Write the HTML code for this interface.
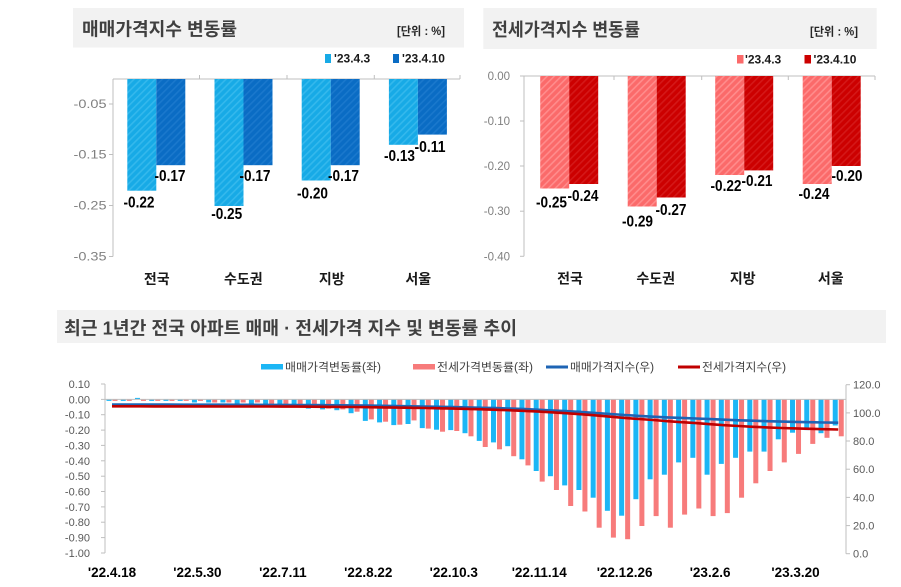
<!DOCTYPE html>
<html><head><meta charset="utf-8">
<style>
html,body{margin:0;padding:0;background:#fff;}
svg{display:block;}
svg text{font-family:"Liberation Sans","Noto Sans CJK KR",sans-serif;}
.t{font-weight:bold;font-size:18px;fill:#404040;}
.u{font-weight:bold;font-size:11.5px;fill:#262626;}
.lg{font-weight:bold;font-size:12px;fill:#1a1a1a;}
.yl{font-size:11.5px;fill:#7f7f7f;}
.dl{font-weight:bold;font-size:16px;fill:#000;}
.cat{font-weight:bold;font-size:14px;fill:#1a1a1a;}
.by{font-size:11px;fill:#595959;}
.bx{font-weight:bold;font-size:13.5px;fill:#000;}
.bl{font-size:11.5px;fill:#404040;}
</style></head>
<body>
<svg width="901" height="587" viewBox="0 0 901 587" xmlns="http://www.w3.org/2000/svg">
<defs>
<pattern id="pLB" width="5" height="5" patternUnits="userSpaceOnUse" patternTransform="rotate(45)"><rect width="5" height="5" fill="#17aae6"/><rect width="1.6" height="5" fill="#34b8ec"/></pattern>
<pattern id="pDB" width="5" height="5" patternUnits="userSpaceOnUse" patternTransform="rotate(45)"><rect width="5" height="5" fill="#0a6cc4"/><rect width="1.6" height="5" fill="#1a78cc"/></pattern>
<pattern id="pLR" width="5" height="5" patternUnits="userSpaceOnUse" patternTransform="rotate(45)"><rect width="5" height="5" fill="#fb6a6a"/><rect width="1.6" height="5" fill="#ff8c8c"/></pattern>
<pattern id="pDR" width="5" height="5" patternUnits="userSpaceOnUse" patternTransform="rotate(45)"><rect width="5" height="5" fill="#cc0000"/><rect width="1.6" height="5" fill="#d41818"/></pattern>
</defs>
<rect width="901" height="587" fill="#fff"/>

<!-- ===== Top-left chart ===== -->
<rect x="73" y="8" width="391" height="39.5" fill="#f2f2f2"/>
<text class="t" x="82" y="35.5" textLength="155" lengthAdjust="spacingAndGlyphs">매매가격지수 변동률</text>
<text class="u" x="397" y="35" textLength="48" lengthAdjust="spacingAndGlyphs">[단위 : %]</text>
<rect x="325" y="54" width="6" height="9" fill="#17aae6"/>
<text class="lg" x="334" y="62.5">'23.4.3</text>
<rect x="393" y="54" width="6" height="9" fill="#0a6cc4"/>
<text class="lg" x="402" y="62.5">'23.4.10</text>

<g stroke="#bfbfbf" stroke-width="1" fill="none">
<line x1="113" y1="79" x2="460" y2="79"/>
<line x1="113" y1="79" x2="113" y2="256.5"/>
<line x1="109" y1="104" x2="113" y2="104"/>
<line x1="109" y1="154.5" x2="113" y2="154.5"/>
<line x1="109" y1="205.5" x2="113" y2="205.5"/>
<line x1="109" y1="256.5" x2="113" y2="256.5"/>
<line x1="199.5" y1="75" x2="199.5" y2="79"/>
<line x1="287" y1="75" x2="287" y2="79"/>
<line x1="374.3" y1="75" x2="374.3" y2="79"/>
<line x1="460" y1="75" x2="460" y2="79"/>
</g>
<g class="yl" text-anchor="end">
<text x="106.5" y="108" textLength="33" lengthAdjust="spacingAndGlyphs">-0.05</text>
<text x="106.5" y="158.5" textLength="33" lengthAdjust="spacingAndGlyphs">-0.15</text>
<text x="106.5" y="209.5" textLength="33" lengthAdjust="spacingAndGlyphs">-0.25</text>
<text x="106.5" y="260.5" textLength="33" lengthAdjust="spacingAndGlyphs">-0.35</text>
</g>
<rect x="127.3" y="79" width="29" height="111.7" fill="url(#pLB)"/>
<rect x="156.3" y="79" width="29" height="86.2" fill="url(#pDB)"/>
<rect x="214.5" y="79" width="29" height="127" fill="url(#pLB)"/>
<rect x="243.5" y="79" width="29" height="86.2" fill="url(#pDB)"/>
<rect x="301.7" y="79" width="29" height="101.5" fill="url(#pLB)"/>
<rect x="330.7" y="79" width="29" height="86.2" fill="url(#pDB)"/>
<rect x="388.9" y="79" width="29" height="65.8" fill="url(#pLB)"/>
<rect x="417.9" y="79" width="29" height="55.6" fill="url(#pDB)"/>
<g class="dl" text-anchor="middle">
<text x="139" y="207.5" textLength="31" lengthAdjust="spacingAndGlyphs">-0.22</text>
<text x="170" y="181" textLength="31" lengthAdjust="spacingAndGlyphs">-0.17</text>
<text x="226.7" y="219" textLength="31" lengthAdjust="spacingAndGlyphs">-0.25</text>
<text x="255" y="181" textLength="31" lengthAdjust="spacingAndGlyphs">-0.17</text>
<text x="312.5" y="198.5" textLength="31" lengthAdjust="spacingAndGlyphs">-0.20</text>
<text x="343.5" y="181" textLength="31" lengthAdjust="spacingAndGlyphs">-0.17</text>
<text x="399.5" y="161" textLength="31" lengthAdjust="spacingAndGlyphs">-0.13</text>
<text x="430" y="152" textLength="31" lengthAdjust="spacingAndGlyphs">-0.11</text>
</g>
<g class="cat" text-anchor="middle">
<text x="156.7" y="284">전국</text>
<text x="243.3" y="284">수도권</text>
<text x="331.7" y="284">지방</text>
<text x="418.3" y="284">서울</text>
</g>

<!-- ===== Top-right chart ===== -->
<rect x="483.3" y="8" width="393.4" height="41" fill="#f2f2f2"/>
<text class="t" x="492" y="36" textLength="148" lengthAdjust="spacingAndGlyphs">전세가격지수 변동률</text>
<text class="u" x="810" y="35.5" textLength="48" lengthAdjust="spacingAndGlyphs">[단위 : %]</text>
<rect x="737" y="55" width="6.5" height="8.5" fill="#fb6a6a"/>
<text class="lg" x="745" y="63.5">'23.4.3</text>
<rect x="804.5" y="55" width="6.5" height="8.5" fill="#cc0000"/>
<text class="lg" x="813.5" y="63.5">'23.4.10</text>

<g stroke="#bfbfbf" stroke-width="1" fill="none">
<line x1="524" y1="76" x2="875" y2="76"/>
<line x1="524" y1="76" x2="524" y2="256.3"/>
<line x1="520" y1="76" x2="524" y2="76"/>
<line x1="520" y1="121" x2="524" y2="121"/>
<line x1="520" y1="166" x2="524" y2="166"/>
<line x1="520" y1="211.2" x2="524" y2="211.2"/>
<line x1="520" y1="256.3" x2="524" y2="256.3"/>
<line x1="614" y1="76" x2="614" y2="80"/>
<line x1="701.7" y1="76" x2="701.7" y2="80"/>
<line x1="788.3" y1="76" x2="788.3" y2="80"/>
<line x1="875" y1="76" x2="875" y2="80"/>
</g>
<g class="yl" text-anchor="end">
<text x="510" y="80">0.00</text>
<text x="510" y="125">-0.10</text>
<text x="510" y="170">-0.20</text>
<text x="510" y="215.2">-0.30</text>
<text x="510" y="260.3">-0.40</text>
</g>
<rect x="540.2" y="76" width="29" height="112.5" fill="url(#pLR)"/>
<rect x="569.2" y="76" width="29" height="108" fill="url(#pDR)"/>
<rect x="627.7" y="76" width="29" height="130.5" fill="url(#pLR)"/>
<rect x="656.7" y="76" width="29" height="121.5" fill="url(#pDR)"/>
<rect x="715.2" y="76" width="29" height="99" fill="url(#pLR)"/>
<rect x="744.2" y="76" width="29" height="94.4" fill="url(#pDR)"/>
<rect x="802.7" y="76" width="29" height="108" fill="url(#pLR)"/>
<rect x="831.7" y="76" width="29" height="90" fill="url(#pDR)"/>
<g class="dl" text-anchor="middle">
<text x="551.5" y="207.5" textLength="31" lengthAdjust="spacingAndGlyphs">-0.25</text>
<text x="583" y="201" textLength="31" lengthAdjust="spacingAndGlyphs">-0.24</text>
<text x="637.5" y="226.5" textLength="31" lengthAdjust="spacingAndGlyphs">-0.29</text>
<text x="671" y="215" textLength="31" lengthAdjust="spacingAndGlyphs">-0.27</text>
<text x="726" y="191" textLength="31" lengthAdjust="spacingAndGlyphs">-0.22</text>
<text x="757" y="186" textLength="31" lengthAdjust="spacingAndGlyphs">-0.21</text>
<text x="814" y="199" textLength="31" lengthAdjust="spacingAndGlyphs">-0.24</text>
<text x="847" y="181" textLength="31" lengthAdjust="spacingAndGlyphs">-0.20</text>
</g>
<g class="cat" text-anchor="middle">
<text x="570" y="283.5">전국</text>
<text x="655.7" y="283.5">수도권</text>
<text x="742.7" y="283.5">지방</text>
<text x="830.7" y="283.5">서울</text>
</g>

<!-- ===== Bottom chart ===== -->
<rect x="57" y="310" width="829" height="33" fill="#f2f2f2"/>
<text class="t" x="64" y="334.5" textLength="453" lengthAdjust="spacingAndGlyphs">최근 1년간 전국 아파트 매매 · 전세가격 지수 및 변동률 추이</text>

<rect x="261" y="364" width="22" height="5.5" fill="#1cb6f5"/>
<text class="bl" x="285" y="371" textLength="96" lengthAdjust="spacingAndGlyphs">매매가격변동률(좌)</text>
<rect x="413" y="364" width="22" height="5.5" fill="#f77b7b"/>
<text class="bl" x="437" y="371" textLength="96" lengthAdjust="spacingAndGlyphs">전세가격변동률(좌)</text>
<line x1="546" y1="367" x2="568" y2="367" stroke="#1e64b4" stroke-width="3"/>
<text class="bl" x="570" y="371" textLength="84" lengthAdjust="spacingAndGlyphs">매매가격지수(우)</text>
<line x1="678" y1="367" x2="700" y2="367" stroke="#c00000" stroke-width="3"/>
<text class="bl" x="702" y="371" textLength="84" lengthAdjust="spacingAndGlyphs">전세가격지수(우)</text>

<g stroke="#bfbfbf" stroke-width="1" fill="none">
<line x1="105" y1="384" x2="105" y2="553"/>
<line x1="846" y1="384.7" x2="846" y2="553.7"/>
<line x1="101" y1="384" x2="105" y2="384"/>
<line x1="101" y1="399.4" x2="105" y2="399.4"/>
<line x1="101" y1="414.7" x2="105" y2="414.7"/>
<line x1="101" y1="430.1" x2="105" y2="430.1"/>
<line x1="101" y1="445.4" x2="105" y2="445.4"/>
<line x1="101" y1="460.8" x2="105" y2="460.8"/>
<line x1="101" y1="476.2" x2="105" y2="476.2"/>
<line x1="101" y1="491.5" x2="105" y2="491.5"/>
<line x1="101" y1="506.9" x2="105" y2="506.9"/>
<line x1="101" y1="522.2" x2="105" y2="522.2"/>
<line x1="101" y1="537.6" x2="105" y2="537.6"/>
<line x1="101" y1="553" x2="105" y2="553"/>
<line x1="846" y1="384.7" x2="850" y2="384.7"/>
<line x1="846" y1="412.9" x2="850" y2="412.9"/>
<line x1="846" y1="441" x2="850" y2="441"/>
<line x1="846" y1="469.2" x2="850" y2="469.2"/>
<line x1="846" y1="497.4" x2="850" y2="497.4"/>
<line x1="846" y1="525.6" x2="850" y2="525.6"/>
<line x1="846" y1="553.7" x2="850" y2="553.7"/>
</g>
<g class="by" text-anchor="end">
<text x="90" y="388">0.10</text>
<text x="90" y="403.4">0.00</text>
<text x="90" y="418.7">-0.10</text>
<text x="90" y="434.1">-0.20</text>
<text x="90" y="449.4">-0.30</text>
<text x="90" y="464.8">-0.40</text>
<text x="90" y="480.2">-0.50</text>
<text x="90" y="495.5">-0.60</text>
<text x="90" y="510.9">-0.70</text>
<text x="90" y="526.2">-0.80</text>
<text x="90" y="541.6">-0.90</text>
<text x="90" y="557">-1.00</text>
</g>
<g class="by">
<text x="853" y="388.7">120.0</text>
<text x="853" y="416.9">100.0</text>
<text x="853" y="445">80.0</text>
<text x="853" y="473.2">60.0</text>
<text x="853" y="501.4">40.0</text>
<text x="853" y="529.6">20.0</text>
<text x="853" y="557.7">0.0</text>
</g>

<!-- bars -->
<g transform="translate(0,399.4)">
<g fill="#1cb6f5">
<rect x="106.5" y="0" width="5" height="1.5"/>
<rect x="120.74" y="0" width="5" height="1.5"/>
<rect x="134.98" y="-1.5" width="5" height="1.5"/>
<rect x="149.22" y="0" width="5" height="1.5"/>
<rect x="163.46" y="0" width="5" height="1.5"/>
<rect x="177.7" y="0" width="5" height="1.5"/>
<rect x="191.94" y="0" width="5" height="3.1"/>
<rect x="206.18" y="0" width="5" height="3.1"/>
<rect x="220.42" y="0" width="5" height="3.1"/>
<rect x="234.66" y="0" width="5" height="4.6"/>
<rect x="248.9" y="0" width="5" height="4.6"/>
<rect x="263.14" y="0" width="5" height="4.6"/>
<rect x="277.38" y="0" width="5" height="6.1"/>
<rect x="291.62" y="0" width="5" height="7.7"/>
<rect x="305.86" y="0" width="5" height="9.2"/>
<rect x="320.1" y="0" width="5" height="10"/>
<rect x="334.34" y="0" width="5" height="10.8"/>
<rect x="348.58" y="0" width="5" height="13.8"/>
<rect x="362.82" y="0" width="5" height="21.5"/>
<rect x="377.06" y="0" width="5" height="23"/>
<rect x="391.3" y="0" width="5" height="25.7"/>
<rect x="405.54" y="0" width="5" height="24.6"/>
<rect x="419.78" y="0" width="5" height="28.7"/>
<rect x="434.02" y="0" width="5" height="30.3"/>
<rect x="448.26" y="0" width="5" height="30.7"/>
<rect x="462.5" y="0" width="5" height="33.8"/>
<rect x="476.74" y="0" width="5" height="41.5"/>
<rect x="490.98" y="0" width="5" height="43"/>
<rect x="505.22" y="0" width="5" height="46.8"/>
<rect x="519.46" y="0" width="5" height="59.9"/>
<rect x="533.7" y="0" width="5" height="71.6"/>
<rect x="547.94" y="0" width="5" height="76.8"/>
<rect x="562.18" y="0" width="5" height="86"/>
<rect x="576.42" y="0" width="5" height="90.6"/>
<rect x="590.66" y="0" width="5" height="98.3"/>
<rect x="604.9" y="0" width="5" height="111.4"/>
<rect x="619.14" y="0" width="5" height="116.3"/>
<rect x="633.38" y="0" width="5" height="99.8"/>
<rect x="647.62" y="0" width="5" height="79.9"/>
<rect x="661.86" y="0" width="5" height="75.3"/>
<rect x="676.1" y="0" width="5" height="63"/>
<rect x="690.34" y="0" width="5" height="58.4"/>
<rect x="704.58" y="0" width="5" height="75.3"/>
<rect x="718.82" y="0" width="5" height="64.5"/>
<rect x="733.06" y="0" width="5" height="58.4"/>
<rect x="747.3" y="0" width="5" height="52.2"/>
<rect x="761.54" y="0" width="5" height="52.2"/>
<rect x="775.78" y="0" width="5" height="39.9"/>
<rect x="790.02" y="0" width="5" height="33.3"/>
<rect x="804.26" y="0" width="5" height="30.7"/>
<rect x="818.5" y="0" width="5" height="33.8"/>
<rect x="832.74" y="0" width="5" height="26.1"/>
</g>
<g fill="#f77b7b">
<rect x="112.5" y="0" width="5" height="1.5"/>
<rect x="126.74" y="0" width="5" height="1.5"/>
<rect x="140.98" y="0" width="5" height="1.5"/>
<rect x="155.22" y="0" width="5" height="1.5"/>
<rect x="169.46" y="0" width="5" height="1.5"/>
<rect x="183.7" y="0" width="5" height="1.5"/>
<rect x="197.94" y="0" width="5" height="1.5"/>
<rect x="212.18" y="0" width="5" height="3.1"/>
<rect x="226.42" y="0" width="5" height="3.1"/>
<rect x="240.66" y="0" width="5" height="3.1"/>
<rect x="254.9" y="0" width="5" height="3.1"/>
<rect x="269.14" y="0" width="5" height="4.6"/>
<rect x="283.38" y="0" width="5" height="4.6"/>
<rect x="297.62" y="0" width="5" height="6.1"/>
<rect x="311.86" y="0" width="5" height="7.7"/>
<rect x="326.1" y="0" width="5" height="9.2"/>
<rect x="340.34" y="0" width="5" height="10"/>
<rect x="354.58" y="0" width="5" height="12.3"/>
<rect x="368.82" y="0" width="5" height="20"/>
<rect x="383.06" y="0" width="5" height="22.3"/>
<rect x="397.3" y="0" width="5" height="25.3"/>
<rect x="411.54" y="0" width="5" height="21"/>
<rect x="425.78" y="0" width="5" height="29.2"/>
<rect x="440.02" y="0" width="5" height="32.3"/>
<rect x="454.26" y="0" width="5" height="31.6"/>
<rect x="468.5" y="0" width="5" height="36.9"/>
<rect x="482.74" y="0" width="5" height="47.6"/>
<rect x="496.98" y="0" width="5" height="49.9"/>
<rect x="511.22" y="0" width="5" height="56.8"/>
<rect x="525.46" y="0" width="5" height="66"/>
<rect x="539.7" y="0" width="5" height="82.2"/>
<rect x="553.94" y="0" width="5" height="90.6"/>
<rect x="568.18" y="0" width="5" height="106.6"/>
<rect x="582.42" y="0" width="5" height="112.1"/>
<rect x="596.66" y="0" width="5" height="128.3"/>
<rect x="610.9" y="0" width="5" height="138.2"/>
<rect x="625.14" y="0" width="5" height="139.8"/>
<rect x="639.38" y="0" width="5" height="126.6"/>
<rect x="653.62" y="0" width="5" height="116.7"/>
<rect x="667.86" y="0" width="5" height="128.3"/>
<rect x="682.1" y="0" width="5" height="115.2"/>
<rect x="696.34" y="0" width="5" height="109.1"/>
<rect x="710.58" y="0" width="5" height="116.7"/>
<rect x="724.82" y="0" width="5" height="113.7"/>
<rect x="739.06" y="0" width="5" height="98.3"/>
<rect x="753.3" y="0" width="5" height="83.9"/>
<rect x="767.54" y="0" width="5" height="71.6"/>
<rect x="781.78" y="0" width="5" height="63"/>
<rect x="796.02" y="0" width="5" height="54.5"/>
<rect x="810.26" y="0" width="5" height="44.5"/>
<rect x="824.5" y="0" width="5" height="38.4"/>
<rect x="838.74" y="0" width="5" height="36.9"/>
</g>
</g>
<line x1="105" y1="399.4" x2="846" y2="399.4" stroke="#bfbfbf" stroke-width="1"/>

<!-- index lines -->
<polyline fill="none" stroke="#1e64b4" stroke-width="2.6" stroke-linejoin="round" points="112,404.6 126.2,404.6 140.5,404.6 154.7,404.6 169,404.6 183.2,404.7 197.4,404.7 211.7,404.7 225.9,404.7 240.2,404.8 254.4,404.8 268.6,404.9 282.9,404.9 297.1,405 311.4,405.1 325.6,405.2 339.8,405.3 354.1,405.4 368.3,405.6 382.6,405.8 396.8,406 411,406.3 425.3,406.5 439.5,406.8 453.8,407.1 468,407.4 482.2,407.8 496.5,408.1 510.7,408.6 525,409.1 539.2,409.8 553.4,410.5 567.7,411.2 581.9,412.1 596.2,413 610.4,414 624.6,415 638.9,415.9 653.1,416.7 667.4,417.4 681.6,417.9 695.8,418.5 710.1,419.1 724.3,419.7 738.6,420.3 752.8,420.7 767,421.2 781.3,421.6 795.5,421.9 809.8,422.2 824,422.5 838.2,422.7"/>
<polyline fill="none" stroke="#c00000" stroke-width="2.6" stroke-linejoin="round" points="112,406.3 126.2,406.3 140.5,406.3 154.7,406.4 169,406.4 183.2,406.4 197.4,406.4 211.7,406.4 225.9,406.5 240.2,406.5 254.4,406.5 268.6,406.5 282.9,406.6 297.1,406.6 311.4,406.7 325.6,406.8 339.8,406.9 354.1,407 368.3,407.2 382.6,407.4 396.8,407.6 411,407.8 425.3,408 439.5,408.3 453.8,408.6 468,408.9 482.2,409.3 496.5,409.8 510.7,410.3 525,410.9 539.2,411.6 553.4,412.4 567.7,413.3 581.9,414.3 596.2,415.4 610.4,416.7 624.6,417.9 638.9,419 653.1,420 667.4,421.2 681.6,422.2 695.8,423.1 710.1,424.2 724.3,425.2 738.6,426 752.8,426.8 767,427.4 781.3,428 795.5,428.4 809.8,428.8 824,429.2 838.2,429.5"/>

<g class="bx" text-anchor="middle">
<text x="112" y="577">'22.4.18</text>
<text x="197.4" y="577">'22.5.30</text>
<text x="282.9" y="577">'22.7.11</text>
<text x="368.3" y="577">'22.8.22</text>
<text x="453.8" y="577">'22.10.3</text>
<text x="539.2" y="577">'22.11.14</text>
<text x="624.6" y="577">'22.12.26</text>
<text x="710.1" y="577">'23.2.6</text>
<text x="795.5" y="577">'23.3.20</text>
</g>
</svg>
</body></html>
